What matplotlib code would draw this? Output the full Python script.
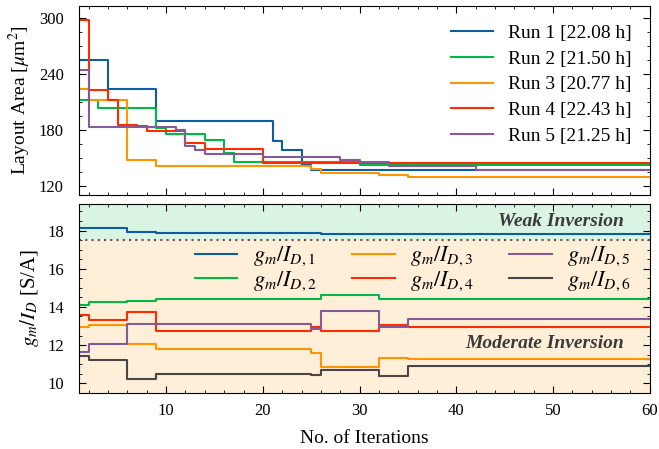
import matplotlib
matplotlib.use("Agg")
import matplotlib.pyplot as plt
from matplotlib.ticker import MultipleLocator

plt.rcParams["font.family"] = ["Liberation Serif", "DejaVu Serif"]
plt.rcParams["mathtext.fontset"] = "stix"
plt.rcParams["font.size"] = 12

colors = ["#0C5DA5", "#00B945", "#FF9500", "#FF2C00", "#845B97", "#474747"]

# layout area per run: change points (iteration, best area so far)
run_labels = ["Run 1 [22.08 h]", "Run 2 [21.50 h]", "Run 3 [20.77 h]",
              "Run 4 [22.43 h]", "Run 5 [21.25 h]"]
run1_x = [1, 4, 9, 21, 22, 24, 25, 60]
run1_y = [254.5, 224, 189, 167.6, 158.7, 141.8, 136.5, 136.5]
run2_x = [1, 3, 9, 10, 14, 16, 17, 30, 60]
run2_y = [212.3, 203.4, 182, 175.7, 169.4, 155, 145, 142, 142]
run3_x = [1, 2, 6, 9, 25, 26, 32, 35, 60]
run3_y = [224, 212.3, 148, 140.8, 138, 133.7, 131.1, 129.4, 129.4]
run4_x = [1, 2, 4, 5, 7, 8, 12, 14, 20, 60]
run4_y = [297.4, 222.3, 212.3, 185.5, 183.5, 178.3, 166.2, 159.2, 143.8, 143.8]
run5_x = [1, 2, 11, 12, 13, 14, 20, 28, 30, 33, 42, 60]
run5_y = [244.5, 182.6, 179.4, 162.2, 158.7, 154, 150.6, 147.2, 145, 140.8, 136.5, 136.5]
runs_x = [run1_x, run2_x, run3_x, run4_x, run5_x]
runs_y = [run1_y, run2_y, run3_y, run4_y, run5_y]

# gm/Id of the six devices for the best design so far
gm_labels = [r"$g_m/I_{D,%d}$" % i for i in range(1, 7)]
gm_x = [1, 2, 6, 9, 25, 26, 32, 35, 60]
gm1 = [18.13, 18.13, 17.9, 17.85, 17.85, 17.83, 17.83, 17.83, 17.83]
gm2 = [14.1, 14.24, 14.32, 14.41, 14.41, 14.6, 14.39, 14.43, 14.43]
gm3 = [12.97, 13.08, 12.06, 11.81, 11.57, 10.83, 11.33, 11.26, 11.26]
gm4 = [13.6, 13.29, 13.73, 12.74, 12.94, 12.76, 13.07, 12.94, 12.94]
gm5 = [11.62, 12.06, 13.1, 13.1, 12.85, 13.8, 12.97, 13.35, 13.35]
gm6 = [11.44, 11.21, 10.24, 10.51, 10.42, 10.68, 10.37, 10.93, 10.93]
gms = [gm1, gm2, gm3, gm4, gm5, gm6]

weak_limit = 17.5

fig, (ax1, ax2) = plt.subplots(2, 1, figsize=(6.59, 4.49), dpi=100, sharex=True)
fig.subplots_adjust(left=0.12, right=0.986, top=0.987, bottom=0.125, hspace=0.047)

for ax in (ax1, ax2):
    ax.tick_params(which="both", direction="in", top=True, right=True)
    ax.tick_params(which="major", length=5)
    ax.tick_params(which="minor", length=2.5)
    ax.tick_params(axis="y", pad=11)
    ax.tick_params(axis="x", pad=7)
    ax.xaxis.set_major_locator(MultipleLocator(10))
    ax.xaxis.set_minor_locator(MultipleLocator(2))

for x, y, c, lab in zip(runs_x, runs_y, colors, run_labels):
    ax1.step(x, y, where="post", color=c, lw=1.5, label=lab)
ax1.set_ylim(110, 313)
ax1.yaxis.set_major_locator(MultipleLocator(60))
ax1.yaxis.set_minor_locator(MultipleLocator(15))
ax1.set_ylabel(r"Layout Area [$\mu$m$^2$]", fontsize=14)
ax1.legend(loc="upper right", frameon=False, fontsize=14, handlelength=2.15,
           handletextpad=0.75, labelspacing=0.42, borderaxespad=0.55)

ax2.axhspan(weak_limit, 19.4, color=colors[1], alpha=0.15, lw=0)
ax2.axhspan(9.5, weak_limit, color=colors[2], alpha=0.15, lw=0)
ax2.axhline(weak_limit, color="#555555", ls=(0, (1, 2)), lw=1.5)
for y, c, lab in zip(gms, colors, gm_labels):
    ax2.step(gm_x, y, where="post", color=c, lw=1.5, label=lab)
ax2.text(0.955, 0.905, "Weak Inversion", transform=ax2.transAxes, ha="right",
         va="center", fontweight="bold", fontstyle="italic", color="#3a3a3a", fontsize=14)
ax2.text(0.955, 0.26, "Moderate Inversion", transform=ax2.transAxes, ha="right",
         va="center", fontweight="bold", fontstyle="italic", color="#3a3a3a", fontsize=14)
ax2.set_ylim(9.5, 19.4)
ax2.yaxis.set_major_locator(MultipleLocator(2))
ax2.yaxis.set_minor_locator(MultipleLocator(0.5))
ax2.set_xlim(1, 60)
ax2.set_ylabel(r"$g_m/I_D$ [S/A]", fontsize=15)
ax2.set_xlabel("No. of Iterations", fontsize=14, labelpad=8)
ax2.legend(loc="center", bbox_to_anchor=(0.585, 0.655), ncol=3, frameon=False,
           fontsize=16, handlelength=1.9, handletextpad=0.7, labelspacing=0.05,
           columnspacing=1.6)

fig.savefig("out.png", dpi=100)
